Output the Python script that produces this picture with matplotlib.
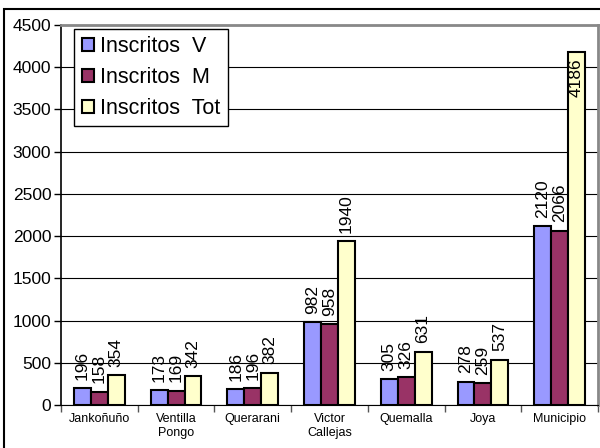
import numpy as np
import matplotlib.pyplot as plt
from matplotlib.patches import Rectangle

plt.rcParams['font.family'] = ['Liberation Sans', 'DejaVu Sans']

# Datos
categorias = ['Jankoñuño', 'Ventilla\nPongo', 'Querarani', 'Victor\nCallejas',
              'Quemalla', 'Joya', 'Municipio']
inscritos_v = [196, 173, 186, 982, 305, 278, 2120]
inscritos_m = [158, 169, 196, 958, 326, 259, 2066]
inscritos_tot = [354, 342, 382, 1940, 631, 537, 4186]

series = [('Inscritos  V', inscritos_v, '#9999FF'),
          ('Inscritos  M', inscritos_m, '#993366'),
          ('Inscritos  Tot', inscritos_tot, '#FFFFCC')]

fig = plt.figure(figsize=(6, 4.48), dpi=100)
ax = fig.add_axes([61 / 600, 43 / 448, 537 / 600, 380 / 448])

x = np.arange(len(categorias))
ancho = 0.22
ymax = 4500

for i, (nombre, valores, color) in enumerate(series):
    pos = x + (i - 1) * ancho
    ax.bar(pos, valores, ancho, color=color, edgecolor='black', linewidth=1.5,
           label=nombre, zorder=3)
    for px, v in zip(pos, valores):
        if v > ymax - 400:
            ax.annotate(str(v), (px, v), xytext=(0, -5), textcoords='offset points',
                        ha='center', va='top', rotation=90, fontsize=12.5, zorder=4)
        else:
            ax.annotate(str(v), (px, v), xytext=(0, 6), textcoords='offset points',
                        ha='center', va='bottom', rotation=90, fontsize=12.5, zorder=4)

ax.set_xlim(-0.5, len(categorias) - 0.5)
ax.set_ylim(0, ymax)
ax.set_yticks(np.arange(0, 4501, 500))
ax.yaxis.grid(True, color='black', linewidth=0.8, zorder=0)
ax.tick_params(axis='y', labelsize=12.5, length=5, width=1, pad=2)

ax.set_xticks(x)
ax.set_xticklabels(categorias, fontsize=9)
ax.tick_params(axis='x', length=0, pad=6)
ax.set_xticks(np.arange(-0.5, len(categorias), 1), minor=True)
ax.tick_params(axis='x', which='minor', length=5, width=1, color='#555555')

ax.spines['left'].set_color('black')
ax.spines['left'].set_linewidth(1.2)
ax.spines['bottom'].set_color('black')
ax.spines['top'].set_color('#888888')
ax.spines['top'].set_linewidth(2)
ax.spines['right'].set_color('#888888')
ax.spines['right'].set_linewidth(2)

leg = ax.legend(loc='upper left', bbox_to_anchor=(0.025, 0.99), fontsize=15.5,
                frameon=True, fancybox=False, edgecolor='black', framealpha=1,
                handlelength=0.55, handleheight=0.55, handletextpad=0.3,
                labelspacing=0.45, borderpad=0.35, borderaxespad=0)
leg.get_frame().set_linewidth(1)
for h in leg.legend_handles:
    h.set_linewidth(1.5)

# marco exterior del grafico
fig.patches.append(Rectangle((4 / 600, -0.01), 1, 1 - 9 / 448 + 0.01,
                             transform=fig.transFigure, fill=False,
                             edgecolor='black', linewidth=1.5))

fig.savefig('out.png', dpi=100)
